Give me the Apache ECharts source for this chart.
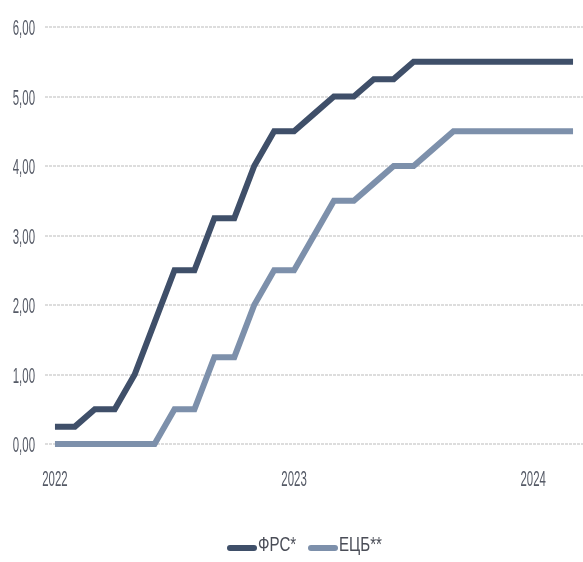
<!DOCTYPE html>
<html>
<head>
<meta charset="utf-8">
<script src="https://cdn.jsdelivr.net/npm/echarts@6/dist/echarts.min.js"></script>
<style>
  html, body { margin: 0; padding: 0; background: #fff; }
  #chart { width: 583px; height: 562px; }
</style>
</head>
<body>
<div id="chart"></div>
<script>
// Monthly policy rates, January 2022 – March 2024
const months = [
  '2022-01','2022-02','2022-03','2022-04','2022-05','2022-06',
  '2022-07','2022-08','2022-09','2022-10','2022-11','2022-12',
  '2023-01','2023-02','2023-03','2023-04','2023-05','2023-06',
  '2023-07','2023-08','2023-09','2023-10','2023-11','2023-12',
  '2024-01','2024-02','2024-03'
];
const fedRate = [
  0.25, 0.25, 0.50, 0.50, 1.00, 1.75,
  2.50, 2.50, 3.25, 3.25, 4.00, 4.50,
  4.50, 4.75, 5.00, 5.00, 5.25, 5.25,
  5.50, 5.50, 5.50, 5.50, 5.50, 5.50,
  5.50, 5.50, 5.50
];
const ecbRate = [
  0.00, 0.00, 0.00, 0.00, 0.00, 0.00,
  0.50, 0.50, 1.25, 1.25, 2.00, 2.50,
  2.50, 3.00, 3.50, 3.50, 3.75, 4.00,
  4.00, 4.25, 4.50, 4.50, 4.50, 4.50,
  4.50, 4.50, 4.50
];
const yTicks = [0, 1, 2, 3, 4, 5, 6];
const yearTicks = ['2022', '2023', '2024'];
const yearTickMonths = ['2022-01', '2023-01', '2024-01'];
const seriesNames = ['ФРС*', 'ЕЦБ**'];

const FONT = "'Liberation Sans', Arial, sans-serif";
const LABEL_COLOR = '#555a66';
const fedColor = '#3f4f69';
const ecbColor = '#7d90ab';
const seriesColors = [fedColor, ecbColor];

const chart = echarts.init(document.getElementById('chart'), null, { renderer: 'canvas' });
chart.setOption({
  animation: false,
  backgroundColor: '#ffffff',
  grid: { left: 45, top: 27, width: 540, bottom: 118, containLabel: false },
  xAxis: {
    type: 'category',
    data: months,
    boundaryGap: true,
    axisLine: { show: false },
    axisTick: { show: false },
    splitLine: { show: false },
    axisLabel: { show: false }
  },
  yAxis: {
    type: 'value',
    min: 0,
    max: 6,
    interval: 1,
    axisLine: { show: false },
    axisTick: { show: false },
    axisLabel: { show: false },
    splitLine: {
      show: true,
      lineStyle: { color: '#d2d2d2', width: 1.5, type: [3, 1] }
    }
  },
  series: [
    {
      name: seriesNames[0],
      type: 'line',
      data: fedRate,
      showSymbol: false,
      symbol: 'none',
      color: fedColor,
      lineStyle: { color: fedColor, width: 6, cap: 'butt', join: 'miter' },
      z: 3
    },
    {
      name: seriesNames[1],
      type: 'line',
      data: ecbRate,
      showSymbol: false,
      symbol: 'none',
      color: ecbColor,
      lineStyle: { color: ecbColor, width: 6, cap: 'butt', join: 'miter' },
      z: 2
    }
  ]
});

// Tick labels and legend are drawn in a condensed face: horizontally
// compressed text placed at the positions given by the axes.
const graphics = [];
yTicks.forEach((v) => {
  const y = chart.convertToPixel({ yAxisIndex: 0 }, v);
  graphics.push({
    type: 'text',
    x: 35, y: y + 2, scaleX: 0.52,
    style: {
      text: v.toFixed(2).replace('.', ','),
      font: '22px ' + FONT, fill: LABEL_COLOR,
      align: 'right', verticalAlign: 'middle'
    },
    silent: true
  });
});
yearTickMonths.forEach((m, i) => {
  const x = chart.convertToPixel({ xAxisIndex: 0 }, m);
  graphics.push({
    type: 'text',
    x: x, y: 480, scaleX: 0.52,
    style: {
      text: yearTicks[i],
      font: '22px ' + FONT, fill: LABEL_COLOR,
      align: 'center', verticalAlign: 'middle'
    },
    silent: true
  });
});

// Legend
const legendX = [227, 308];
seriesNames.forEach((name, i) => {
  graphics.push({
    type: 'rect',
    shape: { x: legendX[i], y: 545, width: 30, height: 6, r: 3 },
    style: { fill: seriesColors[i] },
    silent: true
  });
  graphics.push({
    type: 'text',
    x: legendX[i] + 31, y: 545, scaleX: 0.72,
    style: {
      text: name,
      font: '21px ' + FONT, fill: '#4a4d57',
      align: 'left', verticalAlign: 'middle'
    },
    silent: true
  });
});

chart.setOption({ graphic: graphics });
</script>
</body>
</html>
